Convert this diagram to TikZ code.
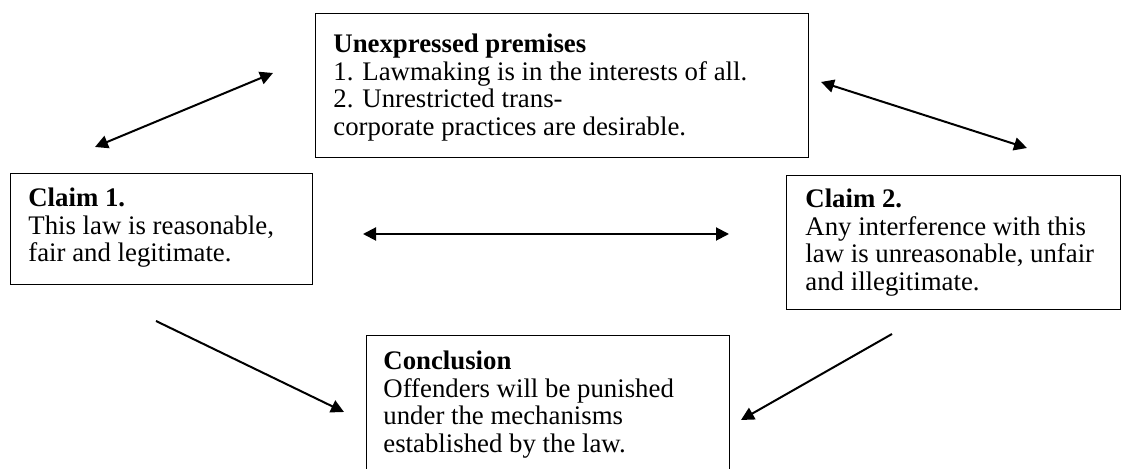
\documentclass[tikz,border=0pt]{standalone}
\usepackage{fontspec}
\setmainfont{Liberation Serif}
\usetikzlibrary{arrows.meta}
\begin{document}
\begin{tikzpicture}[x=0.5pt,y=-0.5pt,
  box/.style={draw, line width=0.6pt, inner sep=0pt, anchor=north west},
  txt/.style={anchor=north west, inner sep=0pt, align=left, font=\fontsize{13.4}{13.9}\selectfont},
  link/.style={line width=1pt, {Triangle[length=6.5pt,width=6.5pt]}-{Triangle[length=6.5pt,width=6.5pt]}},
  oneway/.style={line width=1pt, -{Triangle[length=6.5pt,width=6.5pt]}}]
\useasboundingbox (0,0) rectangle (1126,469);

% boxes
\node[box, minimum width=246.5pt, minimum height=72pt] (prem) at (315,13) {};
\node[box, minimum width=151pt, minimum height=55.5pt] (claimA) at (10,173) {};
\node[box, minimum width=167pt, minimum height=67pt] (claimB) at (786,175) {};
\node[box, minimum width=181.5pt, minimum height=72.5pt] (concl) at (366,335) {};

% texts
\node[txt] (premtext) at (333,32.5) {\strut\textbf{Unexpressed premises}\\1. Lawmaking is in the interests of all.\\2. Unrestricted trans-\\corporate practices are desirable.};
\node[txt] (claimAtext) at (28,186.5) {\strut\textbf{Claim 1.}\\This law is reasonable,\\fair and legitimate.};
\node[txt] (claimBtext) at (805,187.5) {\strut\textbf{Claim 2.}\\Any interference with this\\law is unreasonable, unfair\\and illegitimate.};
\node[txt] (concltext) at (383,349.5) {\strut\textbf{Conclusion}\\Offenders will be punished\\under the mechanisms\\established by the law.};

% arrow end points
\coordinate (c1a) at (95,147);
\coordinate (c1b) at (273,73);
\coordinate (c2a) at (821,82);
\coordinate (c2b) at (1027,148);
\coordinate (c3a) at (363,234);
\coordinate (c3b) at (729,234);
\coordinate (c4a) at (156,321);
\coordinate (c4b) at (344,412);
\coordinate (c5a) at (892,334);
\coordinate (c5b) at (741,420);

\draw[link] (c1a) -- (c1b);
\draw[link] (c2a) -- (c2b);
\draw[link] (c3a) -- (c3b);
\draw[oneway] (c4a) -- (c4b);
\draw[oneway] (c5a) -- (c5b);
\end{tikzpicture}
\end{document}
